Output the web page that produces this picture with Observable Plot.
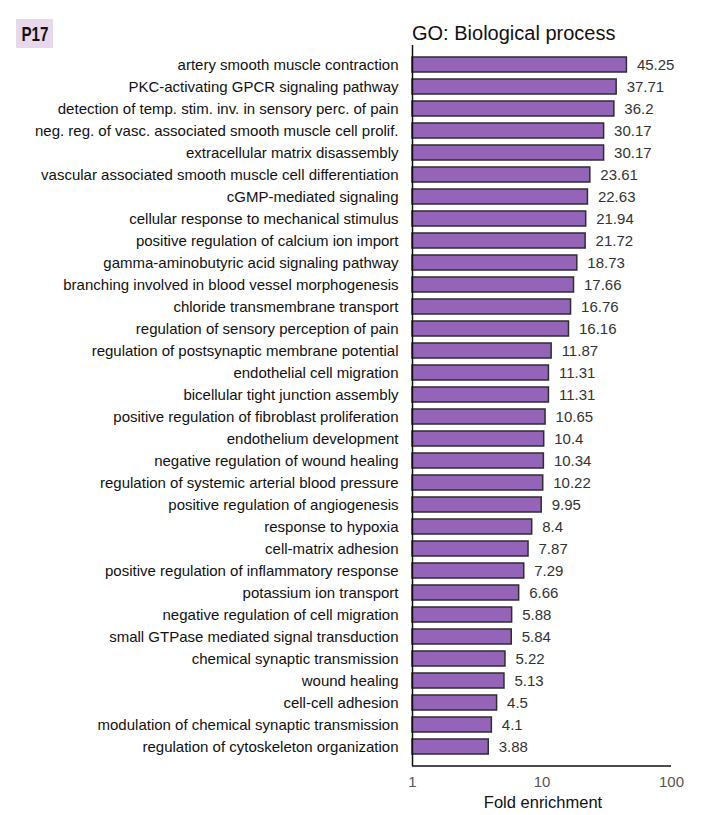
<!DOCTYPE html>
<html>
<head>
<meta charset="utf-8">
<script src="https://cdn.jsdelivr.net/npm/d3@7"></script>
<script src="https://cdn.jsdelivr.net/npm/@observablehq/plot@0.6"></script>
<style>
  html, body { margin: 0; padding: 0; background: #fff; }
  #chart { width: 715px; height: 815px; }
</style>
</head>
<body>
<div id="chart"></div>
<script>
const terms = [
  "artery smooth muscle contraction",
  "PKC-activating GPCR signaling pathway",
  "detection of temp. stim. inv. in sensory perc. of pain",
  "neg. reg. of vasc. associated smooth muscle cell prolif.",
  "extracellular matrix disassembly",
  "vascular associated smooth muscle cell differentiation",
  "cGMP-mediated signaling",
  "cellular response to mechanical stimulus",
  "positive regulation of calcium ion import",
  "gamma-aminobutyric acid signaling pathway",
  "branching involved in blood vessel morphogenesis",
  "chloride transmembrane transport",
  "regulation of sensory perception of pain",
  "regulation of postsynaptic membrane potential",
  "endothelial cell migration",
  "bicellular tight junction assembly",
  "positive regulation of fibroblast proliferation",
  "endothelium development",
  "negative regulation of wound healing",
  "regulation of systemic arterial blood pressure",
  "positive regulation of angiogenesis",
  "response to hypoxia",
  "cell-matrix adhesion",
  "positive regulation of inflammatory response",
  "potassium ion transport",
  "negative regulation of cell migration",
  "small GTPase mediated signal transduction",
  "chemical synaptic transmission",
  "wound healing",
  "cell-cell adhesion",
  "modulation of chemical synaptic transmission",
  "regulation of cytoskeleton organization"
];
const foldEnrichment = [45.25, 37.71, 36.2, 30.17, 30.17, 23.61, 22.63, 21.94, 21.72, 18.73, 17.66, 16.76, 16.16, 11.87, 11.31, 11.31, 10.65, 10.4, 10.34, 10.22, 9.95, 8.4, 7.87, 7.29, 6.66, 5.88, 5.84, 5.22, 5.13, 4.5, 4.1, 3.88];
const xTicks = [1, 10, 100];
const panelLabel = "P17";
const chartTitle = "GO: Biological process";
const xLabel = "Fold enrichment";

const data = terms.map((t, i) => ({term: t, value: foldEnrichment[i]}));

const plot = Plot.plot({
  width: 715,
  height: 815,
  marginLeft: 412,
  marginRight: 44,
  marginTop: 45,
  marginBottom: 49,
  style: {fontFamily: "'Liberation Sans', Arial, sans-serif", fontSize: "15px", color: "#111", background: "#fff"},
  x: {type: "log", domain: [1, 100]},
  y: {domain: terms, padding: 0.33},
  marks: [
    Plot.barX(data, {x1: 1, x2: "value", y: "term", fill: "#9364b8", stroke: "#2e2e2e", strokeWidth: 1.5}),
    Plot.text(data, {x: "value", y: "term", text: d => String(d.value), dx: 10, textAnchor: "start", fill: "#333", fontSize: 15}),
    Plot.axisY({tickSize: 0, tickPadding: 14, label: null, fontSize: 15}),
    Plot.axisX({ticks: xTicks, tickFormat: d => String(d), tickSize: 0, tickPadding: 10, label: null, fill: "#555", fontSize: 15}),
    Plot.ruleX([1], {stroke: "#111", strokeWidth: 1.5})
  ]
});

document.getElementById("chart").appendChild(plot);

const svg = d3.select(plot);
// bottom axis line
svg.append("line")
  .attr("x1", 412).attr("x2", 671).attr("y1", 766).attr("y2", 766)
  .attr("stroke", "#111").attr("stroke-width", 1.5);
// x label
svg.append("text")
  .attr("x", 543).attr("y", 802).attr("text-anchor", "middle").attr("dy", "0.35em")
  .attr("font-size", 16.5).attr("fill", "#111").text(xLabel);
// title
svg.append("text")
  .attr("x", 412).attr("y", 33).attr("dy", "0.35em").attr("text-anchor", "start")
  .attr("font-size", 20).attr("fill", "#111").text(chartTitle);
// panel label
svg.append("rect")
  .attr("x", 16).attr("y", 19).attr("width", 37).attr("height", 29)
  .attr("fill", "#e7d9eb");
svg.append("text")
  .attr("x", 21.5).attr("y", 33.5).attr("dy", "0.35em").attr("text-anchor", "start")
  .attr("font-size", 20).attr("font-weight", "bold").attr("fill", "#111")
  .attr("textLength", 27).attr("lengthAdjust", "spacingAndGlyphs").text(panelLabel);
</script>
</body>
</html>
